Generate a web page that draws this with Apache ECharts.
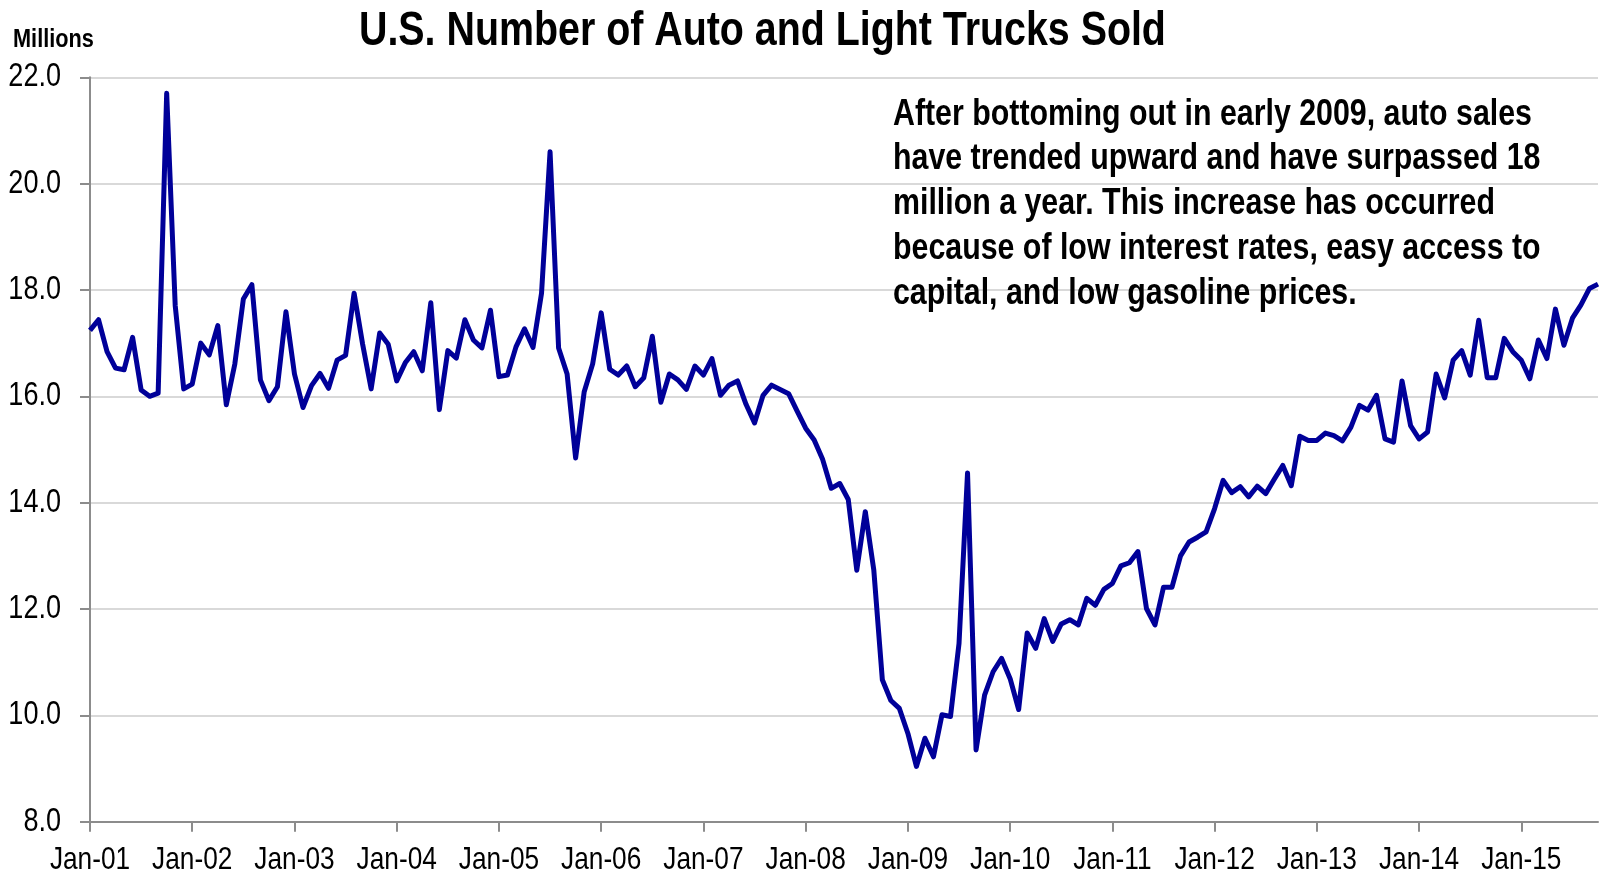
<!DOCTYPE html>
<html>
<head>
<meta charset="utf-8">
<script src="https://cdn.jsdelivr.net/npm/echarts@6/dist/echarts.min.js"></script>
<style>
html,body{margin:0;padding:0;background:#fff;}
#chart{width:1600px;height:876px;}
</style>
</head>
<body>
<div id="chart"></div>
<script>
var FONT = "'Liberation Sans',Arial,sans-serif";
var NARROW = 0.82;
var years = ['01','02','03','04','05','06','07','08','09','10','11','12','13','14','15'];
var months = ['Jan','Feb','Mar','Apr','May','Jun','Jul','Aug','Sep','Oct','Nov','Dec'];
var sales = [
17.24,17.44,16.84,16.53,16.50,17.11,16.12,16.00,16.06,21.70,17.71,16.14,
16.23,17.00,16.78,17.33,15.84,16.61,17.83,18.10,16.31,15.92,16.18,17.59,
16.42,15.79,16.20,16.43,16.15,16.68,16.77,17.94,16.98,16.14,17.19,16.98,
16.29,16.63,16.84,16.48,17.76,15.75,16.86,16.72,17.44,17.06,16.91,17.62,
16.37,16.40,16.93,17.27,16.92,17.94,20.60,16.91,16.42,14.84,16.08,16.61,
17.57,16.51,16.40,16.57,16.18,16.35,17.13,15.89,16.42,16.31,16.13,16.57,
16.40,16.71,16.02,16.21,16.29,15.85,15.50,16.02,16.21,16.13,16.05,15.72,
15.40,15.18,14.81,14.27,14.36,14.06,12.73,13.83,12.73,10.67,10.28,10.13,
9.66,9.04,9.57,9.22,10.01,9.98,11.35,14.56,9.35,10.38,10.82,11.07,
10.69,10.11,11.55,11.26,11.82,11.39,11.72,11.80,11.70,12.20,12.07,12.37,
12.48,12.81,12.87,13.08,12.01,11.70,12.41,12.41,13.00,13.26,13.35,13.45,
13.89,14.42,14.19,14.30,14.11,14.31,14.17,14.44,14.70,14.32,15.25,15.17,
15.17,15.31,15.26,15.16,15.42,15.83,15.74,16.02,15.20,15.14,16.29,15.45,
15.20,15.33,16.42,15.97,16.68,16.86,16.40,17.43,16.35,16.35,17.09,16.84,
16.68,16.33,17.06,16.71,17.64,16.96,17.47,17.72,18.03,18.11
];
var categories = [];
for (var k = 0; k < sales.length; k++) {
  categories.push(months[k % 12] + '-' + years[Math.floor(k / 12)]);
}
var titleText = 'U.S. Number of Auto and Light Trucks Sold';
var unitText = 'Millions';
var noteLines = [
  'After bottoming out in early 2009, auto sales',
  'have trended upward and have surpassed 18',
  'million a year. This increase has occurred',
  'because of low interest rates, easy access to',
  'capital, and low gasoline prices.'
];

var chart = echarts.init(document.getElementById('chart'), null, {renderer: 'canvas'});
chart.setOption({
  animation: false,
  backgroundColor: '#ffffff',
  title: {
    text: titleText,
    left: 359, top: 8, padding: 0,
    textStyle: {fontFamily: FONT, fontWeight: 'bold', fontSize: 48, color: '#000'}
  },
  grid: {left: 90, right: 2, top: 77.3, bottom: 876 - 821.7, containLabel: false, outerBoundsMode: 'none'},
  xAxis: {
    type: 'category',
    data: categories,
    boundaryGap: false,
    axisLine: {lineStyle: {color: '#8c8c8c', width: 2}},
    axisTick: {show: true, length: 10, lineStyle: {color: '#8c8c8c', width: 2},
      interval: function (idx) { return idx % 12 === 0; }},
    axisLabel: {
      interval: function (idx) { return idx % 12 === 0; },
      fontFamily: FONT, fontSize: 32, color: '#000', margin: 22.5
    },
    splitLine: {show: false}
  },
  yAxis: {
    type: 'value',
    min: 8, max: 22, interval: 2,
    axisLine: {show: true, lineStyle: {color: '#8c8c8c', width: 2}},
    axisTick: {show: true, length: 10, lineStyle: {color: '#8c8c8c', width: 2}},
    axisLabel: {
      fontFamily: FONT, fontSize: 33, color: '#000', margin: 29,
      formatter: function (v) { return v.toFixed(1); }
    },
    splitLine: {lineStyle: {color: '#d9d9d9', width: 2}}
  },
  graphic: [{
    type: 'text',
    left: 13, top: 26,
    style: {text: unitText, fontFamily: FONT, fontWeight: 'bold', fontSize: 26.5, fill: '#000'}
  }, {
    type: 'text',
    left: 893, top: 92,
    z: 10,
    style: {
      text: noteLines.join('\n'),
      fontFamily: FONT, fontWeight: 'bold', fontSize: 37, lineHeight: 44.8,
      fill: '#000'
    }
  }],
  series: [{
    type: 'line',
    data: sales,
    showSymbol: false,
    symbol: 'none',
    lineStyle: {color: '#000099', width: 5, join: 'round'},
    itemStyle: {color: '#000099'}
  }]
});

// Emulate a narrow (condensed) typeface: compress all text horizontally.
(function narrowText() {
  var zr = chart.getZr();
  function visit(el) {
    if (el.type === 'text') {
      el.scaleX = NARROW;
      el.markRedraw();
    }
    if (el.isGroup) el.eachChild(visit);
  }
  zr.storage.getRoots().forEach(visit);
  zr.refreshImmediately();
})();
</script>
</body>
</html>
